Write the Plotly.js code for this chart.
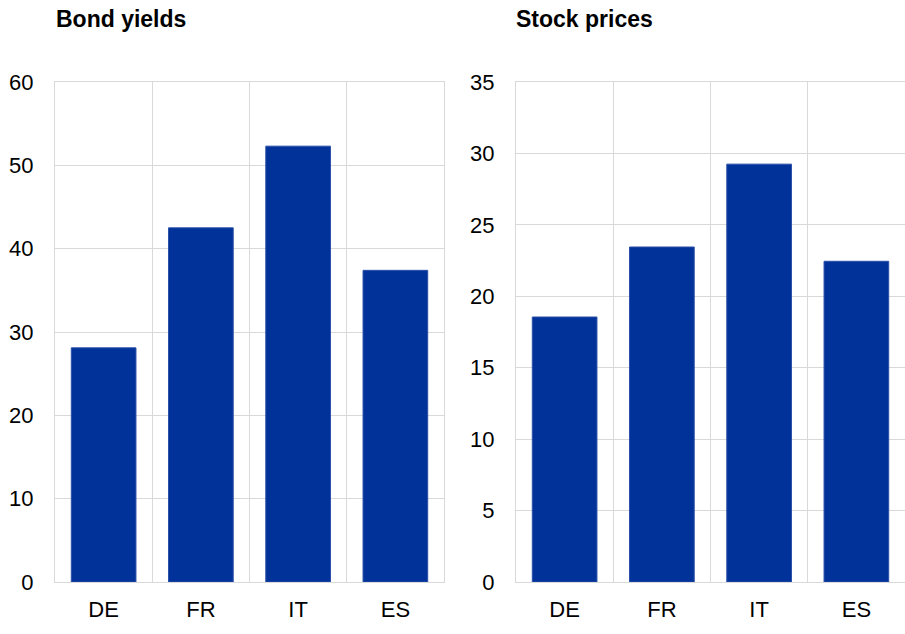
<!DOCTYPE html>
<html>
<head>
<meta charset="utf-8">
<script src="https://cdn.plot.ly/plotly-3.0.1.min.js"></script>
<style>
  body { margin: 0; background: #fff; }
  #chart { width: 905px; height: 634px; }
</style>
</head>
<body>
<div id="chart"></div>
<script>
// data
const countries = ["DE", "FR", "IT", "ES"];
const bondYields = [28.1, 42.5, 52.3, 37.4];
const stockPrices = [18.55, 23.45, 29.25, 22.45];

const barBlue = "#003299";
const gridGrey = "#d9d9d9";
const font = "Liberation Sans, Arial, sans-serif";

const traces = [
  {
    type: "bar", x: countries, y: bondYields,
    xaxis: "x", yaxis: "y",
    marker: {color: barBlue, line: {color: "#2a4fa8", width: 1}},
    hoverinfo: "none"
  },
  {
    type: "bar", x: countries, y: stockPrices,
    xaxis: "x2", yaxis: "y2",
    marker: {color: barBlue, line: {color: "#2a4fa8", width: 1}},
    hoverinfo: "none"
  }
];

function xAxis(domain, anchor) {
  return {
    domain: domain, anchor: anchor,
    type: "category",
    tickson: "boundaries",
    ticks: "", showgrid: true, gridcolor: gridGrey, gridwidth: 1,
    showline: true, linecolor: gridGrey, linewidth: 1, mirror: true,
    ticklabelstandoff: 8,
    tickfont: {family: font, size: 22, color: "#000"},
    fixedrange: true
  };
}
function yAxis(domain, anchor, max, step) {
  return {
    domain: domain, anchor: anchor,
    range: [0, max], dtick: step, tick0: 0,
    ticks: "", showgrid: true, gridcolor: gridGrey, gridwidth: 1,
    zeroline: false,
    showline: true, linecolor: gridGrey, linewidth: 1, mirror: true,
    ticklabelstandoff: 16,
    tickfont: {family: font, size: 22, color: "#000"},
    fixedrange: true
  };
}

const yDom = [52 / 634, 552 / 634];

const layout = {
  width: 905, height: 634,
  margin: {l: 0, r: 0, t: 0, b: 0},
  paper_bgcolor: "#fff", plot_bgcolor: "#fff",
  showlegend: false,
  bargap: 0.335,
  font: {family: font, color: "#000"},
  xaxis: xAxis([55 / 905, 444 / 905], "y"),
  yaxis: yAxis(yDom, "x", 60, 10),
  xaxis2: xAxis([516 / 905, 1], "y2"),
  yaxis2: yAxis(yDom, "x2", 35, 5),
  annotations: [
    {text: "<b>Bond yields</b>", xref: "paper", yref: "paper",
     x: 54 / 905, y: 1 - 19 / 634, xanchor: "left", yanchor: "middle",
     showarrow: false, font: {family: font, size: 23, color: "#000"}},
    {text: "<b>Stock prices</b>", xref: "paper", yref: "paper",
     x: 514 / 905, y: 1 - 19 / 634, xanchor: "left", yanchor: "middle",
     showarrow: false, font: {family: font, size: 23, color: "#000"}}
  ]
};

Plotly.newPlot("chart", traces, layout, {displayModeBar: false, staticPlot: true});
</script>
</body>
</html>
